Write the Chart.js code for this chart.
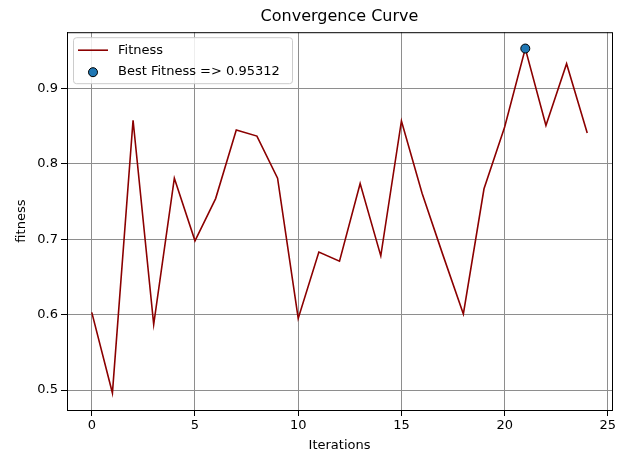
<!DOCTYPE html>
<html>
<head>
<meta charset="utf-8">
<script src="https://cdn.jsdelivr.net/npm/chart.js@4.4.0/dist/chart.umd.min.js"></script>
<style>
  html, body { margin: 0; padding: 0; background: #fff; }
  canvas { display: block; }
</style>
</head>
<body>
<canvas id="curve" width="622" height="454"></canvas>
<script>
// Data
const iterations = [0, 1, 2, 3, 4, 5, 6, 7, 8, 9, 10, 11, 12, 13, 14, 15, 16, 17, 18, 19, 20, 21, 22, 23, 24];
const fitness = [0.603, 0.496, 0.858, 0.587, 0.781, 0.698, 0.754, 0.845, 0.837, 0.781,
                 0.595, 0.683, 0.671, 0.774, 0.678, 0.857, 0.761, 0.680, 0.601, 0.767,
                 0.849, 0.95312, 0.851, 0.933, 0.841];
const xTicks = [0, 5, 10, 15, 20, 25];
const yTicks = [0.5, 0.6, 0.7, 0.8, 0.9];

const bestFitness = Math.max(...fitness);
const bestIter = iterations[fitness.indexOf(bestFitness)];

const FONT = "'DejaVu Sans', sans-serif";
const GRID = "#8e8e8e";

// matplotlib style frame on all four sides
const frameBox = {
    id: "frameBox",
    afterDraw(chart) {
        const { ctx, chartArea: a } = chart;
        ctx.save();
        ctx.strokeStyle = "#000";
        ctx.lineWidth = 1;
        ctx.strokeRect(a.left + 0.5, a.top + 0.5, a.right - a.left, a.bottom - a.top);
        ctx.restore();
    }
};

// legend drawn inside the plot, upper left
const innerLegend = {
    id: "innerLegend",
    afterDraw(chart) {
        const { ctx, chartArea: a } = chart;
        const ds = chart.data.datasets;
        const line = ds.find(d => d.type === "line");
        const dot = ds.find(d => d.type === "scatter");
        const x = a.left + 6, y = a.top + 5, w = 219, h = 46;
        ctx.save();
        ctx.fillStyle = "rgba(255,255,255,0.85)";
        ctx.strokeStyle = "#cccccc";
        ctx.lineWidth = 1;
        ctx.beginPath();
        ctx.roundRect(x + 0.5, y + 0.5, w, h, 3);
        ctx.fill();
        ctx.stroke();

        ctx.font = "13px " + FONT;
        ctx.fillStyle = "#000";
        ctx.textBaseline = "middle";

        ctx.strokeStyle = line.borderColor;
        ctx.lineWidth = line.borderWidth;
        ctx.beginPath();
        ctx.moveTo(x + 5, y + 13);
        ctx.lineTo(x + 35, y + 13);
        ctx.stroke();
        ctx.fillText(line.label, x + 45, y + 13);

        ctx.beginPath();
        ctx.arc(x + 20, y + 35, dot.pointRadius, 0, Math.PI * 2);
        ctx.fillStyle = dot.backgroundColor;
        ctx.fill();
        ctx.strokeStyle = dot.borderColor;
        ctx.lineWidth = dot.borderWidth;
        ctx.stroke();
        ctx.fillStyle = "#000";
        ctx.fillText(dot.label, x + 45, y + 34);
        ctx.restore();
    }
};

new Chart(document.getElementById("curve"), {
    data: {
        datasets: [
            {
                type: "scatter",
                label: "Best Fitness => " + bestFitness,
                data: [{ x: bestIter, y: bestFitness }],
                pointRadius: 4.5,
                backgroundColor: "#1f77b4",
                borderColor: "#000",
                borderWidth: 1,
                order: 0
            },
            {
                type: "line",
                label: "Fitness",
                data: iterations.map((it, i) => ({ x: it, y: fitness[i] })),
                borderColor: "#8b0000",
                borderWidth: 1.6,
                pointRadius: 0,
                tension: 0,
                fill: false,
                order: 1
            }
        ]
    },
    options: {
        responsive: false,
        animation: false,
        layout: { padding: { left: 0, right: 10, top: 0, bottom: 0 } },
        plugins: {
            legend: { display: false },
            tooltip: { enabled: false },
            title: {
                display: true,
                fullSize: false,
                text: "Convergence Curve",
                color: "#000",
                font: { family: FONT, size: 16, weight: "normal" },
                padding: { top: 7, bottom: 6 }
            }
        },
        scales: {
            x: {
                type: "linear",
                min: -1.2,
                max: 25.2,
                afterBuildTicks: s => { s.ticks = xTicks.map(v => ({ value: v })); },
                afterFit: s => { s.height = 44; },
                ticks: { color: "#000", font: { family: FONT, size: 13 }, padding: 2, maxRotation: 0 },
                grid: { color: GRID, lineWidth: 1, tickColor: "#000", tickLength: 6 },
                border: { color: "#000", width: 1 },
                title: {
                    display: true, text: "Iterations", color: "#000",
                    font: { family: FONT, size: 13 }, padding: { top: 0, bottom: 1 }
                }
            },
            y: {
                min: 0.4735,
                max: 0.9748,
                afterBuildTicks: s => { s.ticks = yTicks.map(v => ({ value: v })); },
                afterFit: s => { s.width = 67; },
                ticks: {
                    color: "#000", font: { family: FONT, size: 13 }, padding: 3,
                    callback: v => v.toFixed(1)
                },
                grid: { color: GRID, lineWidth: 1, tickColor: "#000", tickLength: 6 },
                border: { color: "#000", width: 1 },
                title: {
                    display: true, text: "fitness", color: "#000",
                    font: { family: FONT, size: 13 }, padding: { top: 14, bottom: 0 }
                }
            }
        }
    },
    plugins: [frameBox, innerLegend]
});
</script>
</body>
</html>
